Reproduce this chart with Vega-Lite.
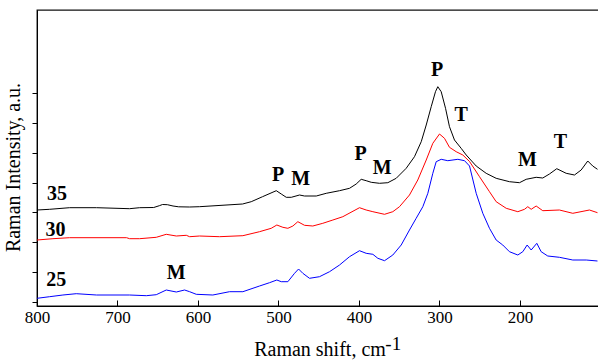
{
  "$schema": "https://vega.github.io/schema/vega-lite/v6.json",
  "width": 565,
  "height": 296,
  "autosize": {"type": "none"},
  "padding": {"left": 37, "top": 10, "right": 0, "bottom": 58},
  "config": {
    "view": {"stroke": "#111111", "strokeWidth": 1.3},
    "font": "Liberation Serif",
    "text": {"font": "Liberation Serif"}
  },
  "datasets": {
    "spectra": [
      {"sample":"35","shift":800,"intensity":96},{"sample":"35","shift":784.3,"intensity":96.7},{"sample":"35","shift":759.5,"intensity":98.3},{"sample":"35","shift":726,"intensity":98.3},{"sample":"35","shift":685,"intensity":97.3},{"sample":"35","shift":672.5,"intensity":98.3},{"sample":"35","shift":655,"intensity":98.5},{"sample":"35","shift":648,"intensity":100.3},{"sample":"35","shift":644,"intensity":101.5},{"sample":"35","shift":638,"intensity":101.3},{"sample":"35","shift":631,"intensity":100},{"sample":"35","shift":624,"intensity":99.2},{"sample":"35","shift":610.4,"intensity":99},{"sample":"35","shift":598,"intensity":99.3},{"sample":"35","shift":544.6,"intensity":102},{"sample":"35","shift":533.8,"intensity":104.3},{"sample":"35","shift":519.8,"intensity":109.3},{"sample":"35","shift":502.7,"intensity":115.3},{"sample":"35","shift":496.5,"intensity":112},{"sample":"35","shift":490.3,"intensity":108.7},{"sample":"35","shift":484.1,"intensity":108.7},{"sample":"35","shift":473.8,"intensity":111},{"sample":"35","shift":467.6,"intensity":110},{"sample":"35","shift":453,"intensity":110},{"sample":"35","shift":440.6,"intensity":112.7},{"sample":"35","shift":424.1,"intensity":115.3},{"sample":"35","shift":411.7,"intensity":117.7},{"sample":"35","shift":403.4,"intensity":122},{"sample":"35","shift":397.2,"intensity":126.7},{"sample":"35","shift":391,"intensity":125.3},{"sample":"35","shift":384.7,"intensity":123.7},{"sample":"35","shift":374.4,"intensity":122.7},{"sample":"35","shift":364.1,"intensity":123.3},{"sample":"35","shift":353.7,"intensity":127.7},{"sample":"35","shift":341.3,"intensity":137.7},{"sample":"35","shift":331,"intensity":149.3},{"sample":"35","shift":322.6,"intensity":164.3},{"sample":"35","shift":316.4,"intensity":181},{"sample":"35","shift":310.2,"intensity":199.3},{"sample":"35","shift":304.9,"intensity":214.3},{"sample":"35","shift":302,"intensity":219.3},{"sample":"35","shift":297.8,"intensity":214.3},{"sample":"35","shift":292.4,"intensity":197.7},{"sample":"35","shift":287.5,"intensity":179.3},{"sample":"35","shift":281.3,"intensity":166},{"sample":"35","shift":273,"intensity":157.7},{"sample":"35","shift":266.7,"intensity":151},{"sample":"35","shift":254.3,"intensity":140},{"sample":"35","shift":241.9,"intensity":132.7},{"sample":"35","shift":229.5,"intensity":127.7},{"sample":"35","shift":213,"intensity":124.3},{"sample":"35","shift":200.5,"intensity":123.3},{"sample":"35","shift":192.2,"intensity":126.7},{"sample":"35","shift":179.8,"intensity":128.7},{"sample":"35","shift":171.6,"intensity":128},{"sample":"35","shift":163.3,"intensity":132},{"sample":"35","shift":154.2,"intensity":137.3},{"sample":"35","shift":142.5,"intensity":132.7},{"sample":"35","shift":132.2,"intensity":131},{"sample":"35","shift":123.9,"intensity":136},{"sample":"35","shift":115.7,"intensity":145},{"sample":"35","shift":109.5,"intensity":140},{"sample":"35","shift":103.6,"intensity":136.7},
      {"sample":"30","shift":800,"intensity":66},{"sample":"30","shift":780.2,"intensity":67.3},{"sample":"30","shift":759.5,"intensity":68.3},{"sample":"30","shift":688.7,"intensity":68.3},{"sample":"30","shift":685,"intensity":67.3},{"sample":"30","shift":672.5,"intensity":67.3},{"sample":"30","shift":651.8,"intensity":68.7},{"sample":"30","shift":639.4,"intensity":71.7},{"sample":"30","shift":626.9,"intensity":70},{"sample":"30","shift":614.5,"intensity":70.7},{"sample":"30","shift":610.4,"intensity":69.3},{"sample":"30","shift":598,"intensity":70},{"sample":"30","shift":573.2,"intensity":69.3},{"sample":"30","shift":544.2,"intensity":70.3},{"sample":"30","shift":523.5,"intensity":74.3},{"sample":"30","shift":509,"intensity":77.7},{"sample":"30","shift":502,"intensity":81},{"sample":"30","shift":494.5,"intensity":78.7},{"sample":"30","shift":488.3,"intensity":77.7},{"sample":"30","shift":482.1,"intensity":80},{"sample":"30","shift":475.9,"intensity":84.3},{"sample":"30","shift":467.6,"intensity":80.7},{"sample":"30","shift":457.3,"intensity":80},{"sample":"30","shift":444.9,"intensity":82.7},{"sample":"30","shift":432.4,"intensity":86},{"sample":"30","shift":420,"intensity":89.3},{"sample":"30","shift":399.3,"intensity":98.3},{"sample":"30","shift":391,"intensity":96},{"sample":"30","shift":382.7,"intensity":94.3},{"sample":"30","shift":368.2,"intensity":91.7},{"sample":"30","shift":357.9,"intensity":94.3},{"sample":"30","shift":349.6,"intensity":99.3},{"sample":"30","shift":337.2,"intensity":111},{"sample":"30","shift":326.9,"intensity":126},{"sample":"30","shift":316.4,"intensity":146},{"sample":"30","shift":308.2,"intensity":162.7},{"sample":"30","shift":299.9,"intensity":172},{"sample":"30","shift":293.7,"intensity":167.7},{"sample":"30","shift":287.5,"intensity":158.7},{"sample":"30","shift":279.2,"intensity":154.3},{"sample":"30","shift":270.9,"intensity":151},{"sample":"30","shift":262.6,"intensity":144.5},{"sample":"30","shift":250.2,"intensity":129.3},{"sample":"30","shift":237.8,"intensity":114.3},{"sample":"30","shift":229.5,"intensity":104.3},{"sample":"30","shift":217,"intensity":97.7},{"sample":"30","shift":202.6,"intensity":94.3},{"sample":"30","shift":194.3,"intensity":96.7},{"sample":"30","shift":190.2,"intensity":99.3},{"sample":"30","shift":186,"intensity":96.7},{"sample":"30","shift":179.8,"intensity":100},{"sample":"30","shift":171.6,"intensity":95.3},{"sample":"30","shift":150.9,"intensity":96},{"sample":"30","shift":134.3,"intensity":92.7},{"sample":"30","shift":113.6,"intensity":96},{"sample":"30","shift":103.6,"intensity":93.3},
      {"sample":"25","shift":800,"intensity":7.7},{"sample":"25","shift":784.3,"intensity":9.3},{"sample":"25","shift":767.8,"intensity":11},{"sample":"25","shift":751.2,"intensity":12.3},{"sample":"25","shift":726,"intensity":11},{"sample":"25","shift":685,"intensity":11},{"sample":"25","shift":664.2,"intensity":10.3},{"sample":"25","shift":651.8,"intensity":11.3},{"sample":"25","shift":639.4,"intensity":16},{"sample":"25","shift":626.9,"intensity":14},{"sample":"25","shift":616.6,"intensity":16},{"sample":"25","shift":610.4,"intensity":14.3},{"sample":"25","shift":602.1,"intensity":11.7},{"sample":"25","shift":581.5,"intensity":11},{"sample":"25","shift":560.8,"intensity":14.3},{"sample":"25","shift":544.2,"intensity":14.3},{"sample":"25","shift":523.5,"intensity":20},{"sample":"25","shift":511.1,"intensity":23.3},{"sample":"25","shift":502,"intensity":26},{"sample":"25","shift":496.5,"intensity":24.3},{"sample":"25","shift":488.3,"intensity":24.3},{"sample":"25","shift":480,"intensity":32.7},{"sample":"25","shift":475,"intensity":37},{"sample":"25","shift":469.7,"intensity":32.7},{"sample":"25","shift":461.4,"intensity":27.7},{"sample":"25","shift":449,"intensity":29.3},{"sample":"25","shift":436.5,"intensity":34.3},{"sample":"25","shift":424.1,"intensity":41},{"sample":"25","shift":411.7,"intensity":49.3},{"sample":"25","shift":399.3,"intensity":55.3},{"sample":"25","shift":391,"intensity":52.7},{"sample":"25","shift":382.7,"intensity":51.7},{"sample":"25","shift":376.5,"intensity":47.7},{"sample":"25","shift":368.2,"intensity":45.3},{"sample":"25","shift":357.9,"intensity":51},{"sample":"25","shift":347.5,"intensity":61},{"sample":"25","shift":337.2,"intensity":76},{"sample":"25","shift":328.9,"intensity":87.7},{"sample":"25","shift":320.6,"intensity":99.3},{"sample":"25","shift":314.4,"intensity":112.7},{"sample":"25","shift":308.2,"intensity":132.7},{"sample":"25","shift":304,"intensity":144.3},{"sample":"25","shift":297.8,"intensity":146.7},{"sample":"25","shift":289.6,"intensity":145.3},{"sample":"25","shift":277.1,"intensity":146.7},{"sample":"25","shift":268.8,"intensity":145.3},{"sample":"25","shift":262.6,"intensity":140},{"sample":"25","shift":254.3,"intensity":112.7},{"sample":"25","shift":246.1,"intensity":92.7},{"sample":"25","shift":237.8,"intensity":77.7},{"sample":"25","shift":229.5,"intensity":66},{"sample":"25","shift":221.3,"intensity":61},{"sample":"25","shift":213,"intensity":54.3},{"sample":"25","shift":202.6,"intensity":51},{"sample":"25","shift":196.4,"intensity":54.3},{"sample":"25","shift":191,"intensity":61},{"sample":"25","shift":186,"intensity":56},{"sample":"25","shift":179,"intensity":62.7},{"sample":"25","shift":173.6,"intensity":54.3},{"sample":"25","shift":165.4,"intensity":50},{"sample":"25","shift":150.9,"intensity":48.7},{"sample":"25","shift":134.3,"intensity":46},{"sample":"25","shift":117.6,"intensity":46},{"sample":"25","shift":103.6,"intensity":45}
    ],
    "labels": [
      {"label":"35","shift":775,"intensity":106,"kind":"tag"},
      {"label":"30","shift":777,"intensity":70,"kind":"tag"},
      {"label":"25","shift":776,"intensity":20,"kind":"tag"},
      {"label":"M","shift":627,"intensity":27,"kind":"tag"},
      {"label":"P","shift":500.5,"intensity":125,"kind":"tag"},
      {"label":"M","shift":472.5,"intensity":121,"kind":"tag"},
      {"label":"P","shift":398,"intensity":146,"kind":"tag"},
      {"label":"M","shift":371,"intensity":132,"kind":"tag"},
      {"label":"P","shift":303,"intensity":230,"kind":"tag"},
      {"label":"T","shift":273,"intensity":185,"kind":"tag"},
      {"label":"M","shift":190.6,"intensity":140,"kind":"tag"},
      {"label":"T","shift":149.6,"intensity":158,"kind":"tag"}
    ],
    "unit": [
      {"label":"-1","shift":361,"intensity":-44}
    ]
  },
  "encoding": {
    "x": {
      "field": "shift",
      "type": "quantitative",
      "scale": {"domain": [800, 98], "nice": false, "zero": false},
      "axis": {
        "values": [800, 700, 600, 500, 400, 300, 200],
        "title": "Raman shift, cm",
        "grid": false,
        "labelFlush": false,
        "tickSize": -6,
        "tickColor": "#000000",
        "domainColor": "#000000",
        "labelFont": "Liberation Serif",
        "labelFontSize": 17,
        "labelColor": "#000000",
        "labelPadding": 9,
        "titleFont": "Liberation Serif",
        "titleFontSize": 20,
        "titleFontWeight": "normal",
        "titleColor": "#000000",
        "titlePadding": 14
      }
    },
    "y": {
      "field": "intensity",
      "type": "quantitative",
      "scale": {"domain": [0, 296], "nice": false, "zero": false},
      "axis": {
        "values": [4.5, 34.25, 64, 93.75, 123.5, 153.25, 183, 212.75],
        "labels": false,
        "grid": false,
        "tickSize": 5,
        "tickColor": "#000000",
        "domainColor": "#000000",
        "title": "Raman Intensity, a.u.",
        "titleFont": "Liberation Serif",
        "titleFontSize": 20,
        "titleFontWeight": "normal",
        "titleColor": "#000000",
        "titlePadding": 8,
        "titleY": 157
      }
    }
  },
  "layer": [
    {
      "data": {"name": "spectra"},
      "mark": {"type": "line", "strokeWidth": 1, "clip": true},
      "encoding": {
        "color": {
          "field": "sample",
          "type": "nominal",
          "scale": {"domain": ["35", "30", "25"], "range": ["#000000", "#ff0000", "#0000ff"]},
          "legend": null
        }
      }
    },
    {
      "data": {"name": "labels"},
      "mark": {"type": "text", "font": "Liberation Serif", "fontWeight": "bold", "fontSize": 20, "align": "center", "baseline": "alphabetic", "color": "#000000"},
      "encoding": {"text": {"field": "label"}}
    },
    {
      "data": {"name": "unit"},
      "mark": {"type": "text", "font": "Liberation Serif", "fontSize": 19, "align": "left", "baseline": "alphabetic", "color": "#000000", "clip": false, "dx": -5},
      "encoding": {"text": {"field": "label"}}
    }
  ]
}
